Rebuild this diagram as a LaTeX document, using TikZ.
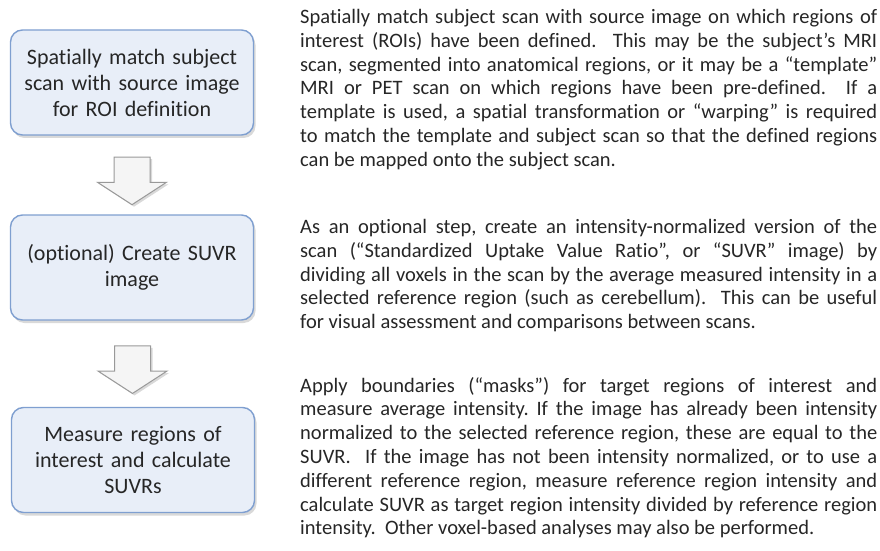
\documentclass[tikz,border=0pt]{standalone}
\usepackage{fontspec}
\setmainfont{Carlito}[Ligatures=NoCommon]
\usetikzlibrary{shapes.arrows,shadows,calc}
\definecolor{boxfill}{HTML}{E8EEF8}
\definecolor{boxline}{HTML}{7F9FD0}
\definecolor{txtgray}{HTML}{262626}
\tikzset{
  font={\fontsize{20.5pt}{23.8pt}\selectfont}}
\frenchspacing
\hyphenpenalty=10000

\begin{document}
\begin{tikzpicture}[x=1pt,y=1pt]
\tikzstyle{every node}+=[inner sep=0pt, text=txtgray]
\tikzstyle{stepbox}=[draw=boxline, line width=1.4pt, fill=boxfill, rounded corners=12pt,
  minimum width=243pt, minimum height=105pt, text width=236pt, align=center,
  font={\fontsize{22pt}{26pt}\selectfont},
  drop shadow={opacity=0.3, shadow xshift=2pt, shadow yshift=-3pt}]
\tikzstyle{downarrow}=[single arrow, rotate=-90, draw=black!40, line width=1pt, fill=black!4,
  inner sep=17.5pt, minimum height=41pt, single arrow head extend=16.5pt,
  single arrow tip angle=114,
  drop shadow={opacity=0.3, shadow xshift=2pt, shadow yshift=-2pt}]
\tikzstyle{note}=[anchor=north west, text width=577pt, align=justify]
\useasboundingbox (0,0) rectangle (880,550);
% steps
\node [stepbox] (match) at (132,467.5) {Spatially match subject\\ scan with source image\\ for ROI definition};
\node [stepbox] (suvr) at (132,282.5) {(optional) Create SUVR\\ image};
\node [stepbox] (measure) at (133,90) {Measure regions of\\ interest and calculate\\ SUVRs};
% block arrows
\node [downarrow] (arrA) at ($(match.south)!0.5!(suvr.north)$) {};
\node [downarrow] (arrB) at ($(suvr.south)!0.5!(measure.north)$) {};
% descriptions
\node [note] (noteA) at (300,541) {Spatially match subject scan with source image on which regions of\linebreak{} interest (ROIs) have been defined.\ \ This may be the subject’s MRI\linebreak{} scan, segmented into anatomical regions, or it may be a “template”\linebreak{} MRI or PET scan on which regions have been pre-defined.\ \ If a\linebreak{} template is used, a spatial transformation or “warping” is required\linebreak{} to match the template and subject scan so that the defined regions\linebreak{} can be mapped onto the subject scan.};
\node [note] (noteB) at (300,331) {As an optional step, create an intensity-normalized version of the\linebreak{} scan (“Standardized Uptake Value Ratio”, or “SUVR” image) by\linebreak{} dividing all voxels in the scan by the average measured intensity in a\linebreak{} selected reference region (such as cerebellum).\ \ This can be useful\linebreak{} for visual assessment and comparisons between scans.};
\node [note] (noteC) at (300,173) {Apply boundaries (“masks”) for target regions of interest and\linebreak{} measure average intensity. If the image has already been intensity\linebreak{} normalized to the selected reference region, these are equal to the\linebreak{} SUVR.\ \ If the image has not been intensity normalized, or to use a\linebreak{} different reference region, measure reference region intensity and\linebreak{} calculate SUVR as target region intensity divided by reference region\linebreak{} intensity.\ \ Other voxel-based analyses may also be performed.};
\end{tikzpicture}
\end{document}
